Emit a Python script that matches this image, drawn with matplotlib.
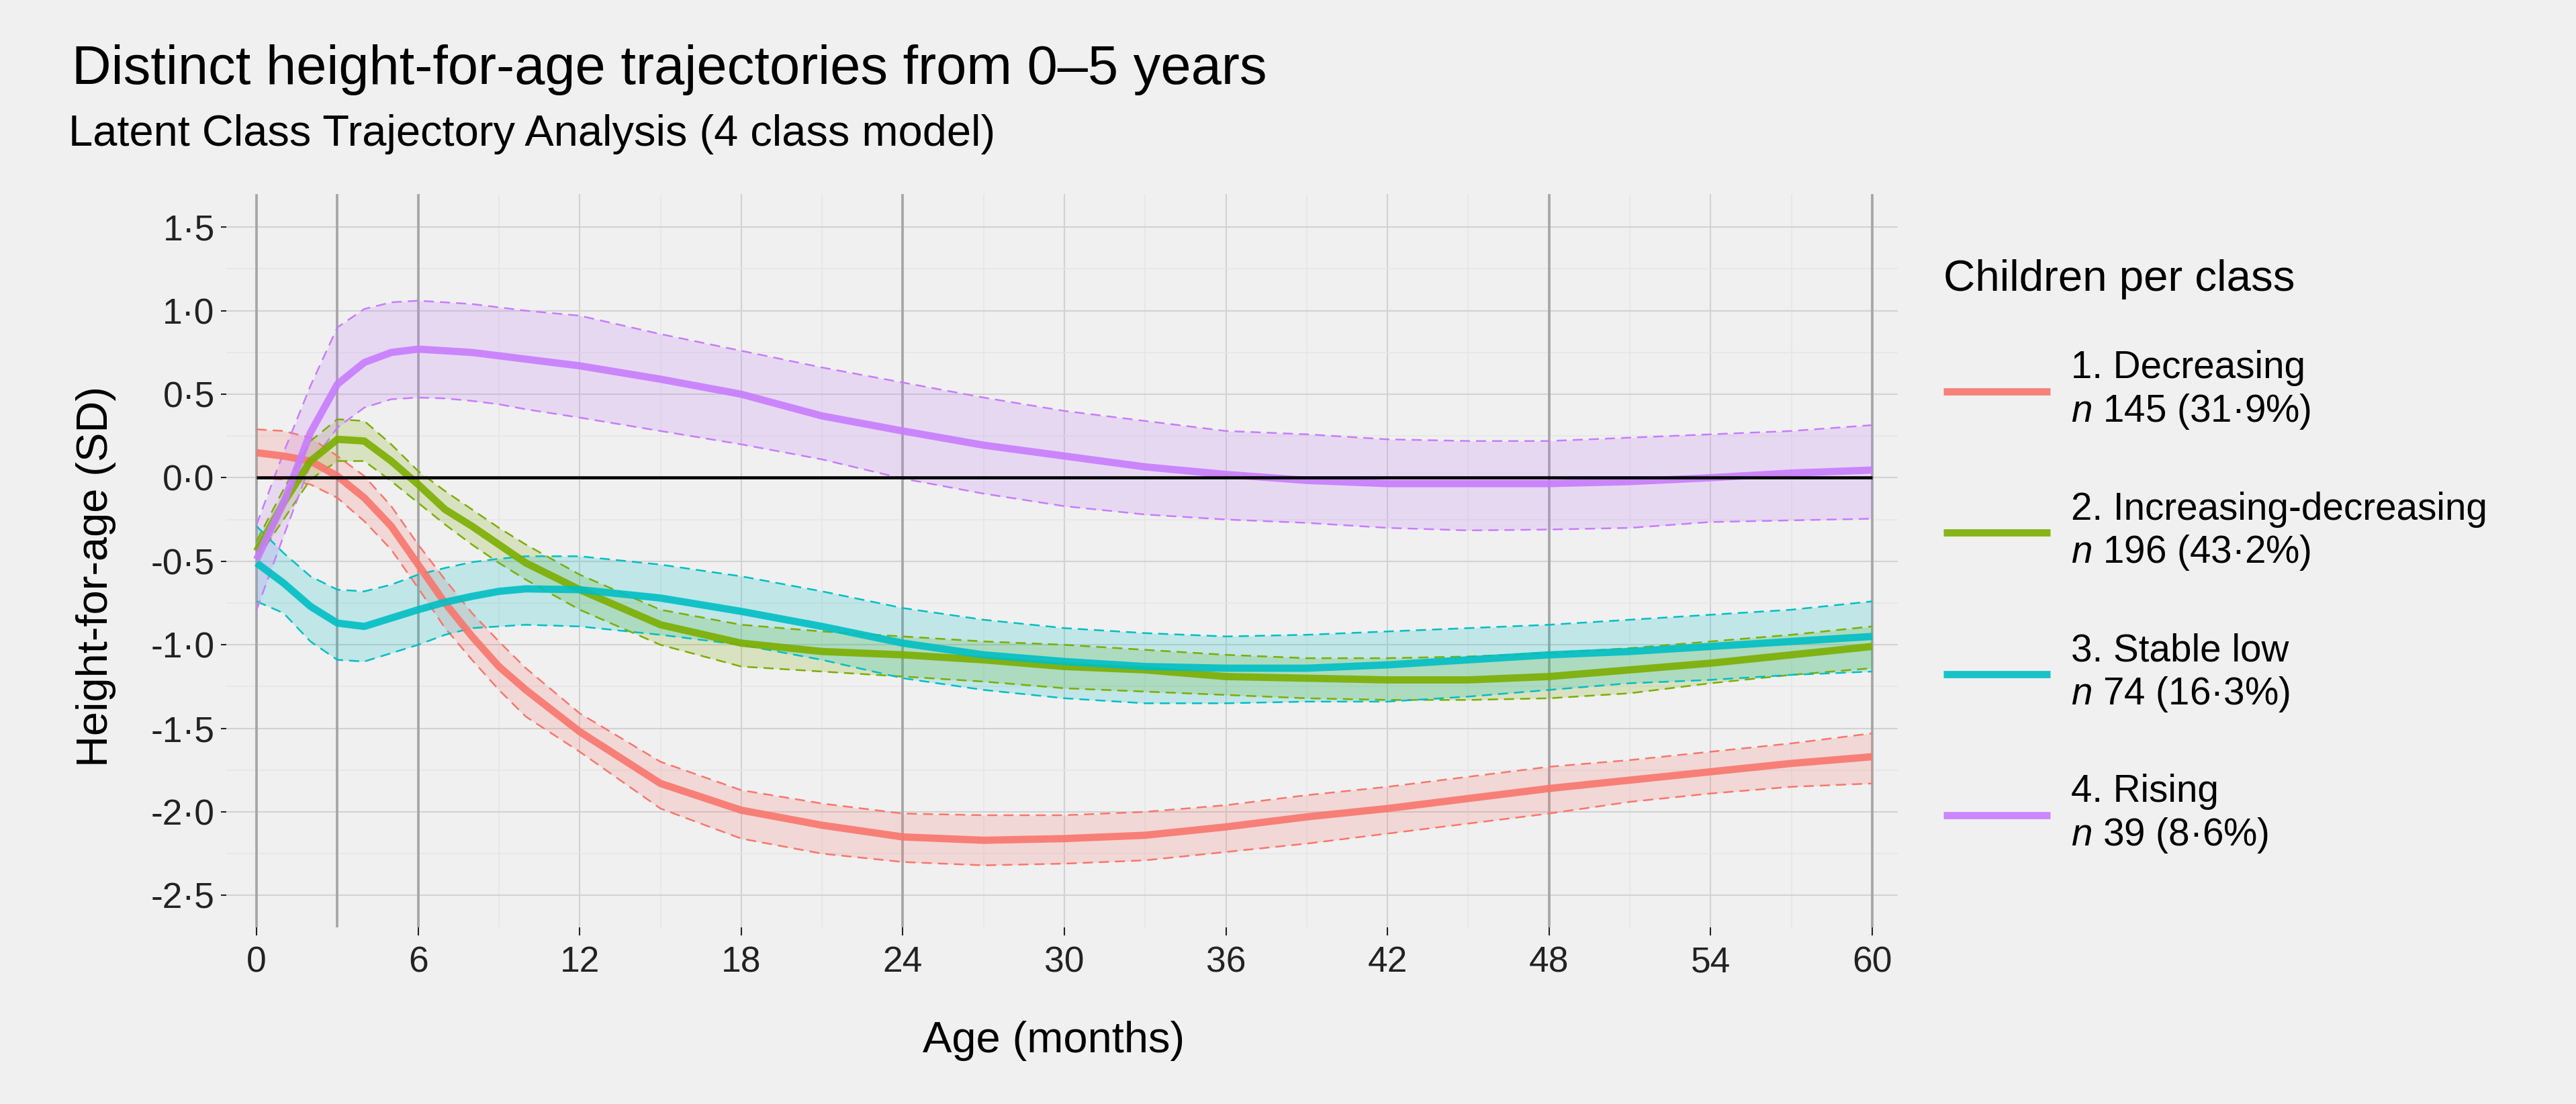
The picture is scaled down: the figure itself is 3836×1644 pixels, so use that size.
import matplotlib
matplotlib.use('Agg')
import matplotlib.pyplot as plt
from matplotlib.ticker import MultipleLocator, FuncFormatter

plt.rcParams['font.family'] = ['Liberation Sans', 'DejaVu Sans']
plt.rcParams['mathtext.fontset'] = 'custom'
plt.rcParams['mathtext.rm'] = 'Liberation Sans'
plt.rcParams['mathtext.it'] = 'Liberation Sans:italic'

# ---- data ----
months = [0, 1, 2, 3, 4, 5, 6, 7, 8, 9, 10, 12, 15, 18, 21, 24, 27, 30,
          33, 36, 39, 42, 45, 48, 51, 54, 57, 60]

decr_mean = [0.15, 0.13, 0.10, 0.01, -0.12, -0.29, -0.52, -0.75, -0.95, -1.13,
             -1.27, -1.52, -1.83, -1.99, -2.08, -2.15, -2.17, -2.16, -2.14,
             -2.09, -2.03, -1.98, -1.92, -1.86, -1.81, -1.76, -1.71, -1.67]
decr_hi = [0.29, 0.28, 0.24, 0.13, 0.01, -0.17, -0.40, -0.61, -0.81, -0.98,
           -1.14, -1.41, -1.70, -1.87, -1.95, -2.01, -2.02, -2.02, -2.00,
           -1.96, -1.90, -1.85, -1.79, -1.73, -1.69, -1.64, -1.59, -1.53]
decr_lo = [0.00, -0.01, -0.04, -0.12, -0.26, -0.43, -0.66, -0.90, -1.09, -1.27,
           -1.43, -1.64, -1.98, -2.16, -2.25, -2.30, -2.32, -2.31, -2.29,
           -2.24, -2.19, -2.13, -2.07, -2.01, -1.94, -1.89, -1.85, -1.83]

incdec_mean = [-0.44, -0.15, 0.10, 0.23, 0.22, 0.10, -0.04, -0.19, -0.29, -0.40,
               -0.51, -0.67, -0.88, -0.99, -1.04, -1.06, -1.09, -1.13, -1.15,
               -1.19, -1.20, -1.21, -1.21, -1.19, -1.15, -1.11, -1.06, -1.01]
incdec_hi = [-0.38, -0.07, 0.22, 0.35, 0.34, 0.20, 0.04, -0.08, -0.19, -0.30,
             -0.40, -0.58, -0.79, -0.88, -0.92, -0.95, -0.98, -1.00, -1.03,
             -1.06, -1.08, -1.08, -1.07, -1.05, -1.02, -0.98, -0.94, -0.89]
incdec_lo = [-0.49, -0.25, -0.01, 0.10, 0.10, -0.02, -0.15, -0.28, -0.40, -0.51,
             -0.61, -0.79, -1.00, -1.13, -1.16, -1.19, -1.22, -1.26, -1.28,
             -1.30, -1.32, -1.33, -1.33, -1.32, -1.29, -1.23, -1.18, -1.14]

stable_mean = [-0.51, -0.63, -0.77, -0.87, -0.89, -0.84, -0.79, -0.745, -0.71,
               -0.68, -0.665, -0.67, -0.72, -0.80, -0.89, -0.99, -1.06, -1.10,
               -1.13, -1.14, -1.14, -1.12, -1.09, -1.06, -1.04, -1.01, -0.98, -0.95]
stable_hi = [-0.29, -0.45, -0.59, -0.67, -0.68, -0.64, -0.58, -0.54, -0.505,
             -0.485, -0.47, -0.47, -0.52, -0.59, -0.68, -0.78, -0.85, -0.90,
             -0.93, -0.95, -0.94, -0.92, -0.90, -0.88, -0.85, -0.82, -0.79, -0.74]
stable_lo = [-0.74, -0.81, -0.98, -1.09, -1.10, -1.05, -1.00, -0.94, -0.90,
             -0.89, -0.88, -0.89, -0.94, -1.00, -1.09, -1.20, -1.27, -1.32,
             -1.35, -1.35, -1.34, -1.34, -1.31, -1.27, -1.23, -1.21, -1.18, -1.16]

rising_mean = [-0.49, -0.15, 0.27, 0.56, 0.69, 0.75, 0.77, 0.76, 0.75, 0.73,
               0.71, 0.67, 0.59, 0.50, 0.37, 0.28, 0.195, 0.13, 0.065, 0.02,
               -0.016, -0.035, -0.035, -0.035, -0.023, 0.0, 0.028, 0.046]
rising_hi = [-0.28, 0.15, 0.55, 0.90, 1.01, 1.05, 1.06, 1.05, 1.04, 1.02,
             1.00, 0.97, 0.86, 0.76, 0.66, 0.57, 0.48, 0.40, 0.34, 0.28,
             0.26, 0.23, 0.22, 0.22, 0.24, 0.26, 0.28, 0.315]
rising_lo = [-0.79, -0.35, 0.08, 0.30, 0.42, 0.47, 0.48, 0.475, 0.46, 0.44,
             0.41, 0.36, 0.28, 0.20, 0.11, -0.005, -0.095, -0.17, -0.22, -0.25,
             -0.27, -0.30, -0.315, -0.31, -0.30, -0.265, -0.255, -0.245]

class_labels = ['1. Decreasing\n$n$ 145 (31·9%)',
                '2. Increasing-decreasing\n$n$ 196 (43·2%)',
                '3. Stable low\n$n$ 74 (16·3%)',
                '4. Rising\n$n$ 39 (8·6%)']
class_colors = ['#F8766D', '#7CAE00', '#00BFC4', '#C77CFF']
vline_months = [0, 3, 6, 24, 48, 60]

series = [(decr_mean, decr_lo, decr_hi),
          (incdec_mean, incdec_lo, incdec_hi),
          (stable_mean, stable_lo, stable_hi),
          (rising_mean, rising_lo, rising_hi)]

BG = '#F0F0F0'
fig = plt.figure(figsize=(3836 / 300, 1644 / 300), dpi=300, facecolor=BG)
ax = fig.add_axes([0.0879, 0.1602, 0.6488, 0.6643], facecolor=BG)

# grid
ax.xaxis.set_major_locator(MultipleLocator(6))
ax.xaxis.set_minor_locator(MultipleLocator(3))
ax.yaxis.set_major_locator(MultipleLocator(0.5))
ax.yaxis.set_minor_locator(MultipleLocator(0.25))
ax.grid(which='major', color='#D2D2D2', linewidth=0.5, zorder=0)
ax.grid(which='minor', color='#E6E6E6', linewidth=0.4, zorder=0)
ax.set_axisbelow(True)

for m in vline_months:
    ax.axvline(m, color='#A6A6A6', linewidth=0.9, zorder=1)

# confidence ribbons with dashed borders
for (mean, lo, hi), col in zip(series, class_colors):
    ax.fill_between(months, lo, hi, color=col, alpha=0.2, linewidth=0, zorder=2)
    ax.plot(months, lo, color=col, linewidth=0.6, linestyle=(0, (6, 3.6)), zorder=3)
    ax.plot(months, hi, color=col, linewidth=0.6, linestyle=(0, (6, 3.6)), zorder=3)

lines = []
for (mean, lo, hi), col, lab in zip(series, class_colors, class_labels):
    ln, = ax.plot(months, mean, color=col, alpha=0.9, linewidth=2.6, label=lab,
                  solid_capstyle='butt', solid_joinstyle='round', zorder=4)
    lines.append(ln)

ax.hlines(0, months[0], months[-1], color='black', linewidth=1.1, zorder=5)

ax.set_xlim(-1.12, 60.95)
ax.set_ylim(-2.69, 1.70)
ax.yaxis.set_major_formatter(FuncFormatter(lambda v, p: f'{v:.1f}'.replace('.', '·')))
ax.tick_params(which='major', width=0.5, color='#222222',
               labelcolor='#222222', labelsize=12.8)
ax.tick_params(axis='x', which='major', length=2.8, pad=3.8)
ax.tick_params(axis='y', which='major', length=2.0, pad=2.2)
ax.tick_params(which='minor', length=0)
for s in ax.spines.values():
    s.set_visible(False)

ax.set_xlabel('Age (months)', fontsize=15.6, color='black')
ax.set_ylabel('Height-for-age (SD)', fontsize=15.6, color='black')
ax.xaxis.set_label_coords(0.495, -0.128)
ax.yaxis.set_label_coords(-0.066, 0.478)

fig.text(0.0280, 0.924, 'Distinct height-for-age trajectories from 0–5 years',
         fontsize=19.5, ha='left', va='baseline')
fig.text(0.0266, 0.868, 'Latent Class Trajectory Analysis (4 class model)',
         fontsize=15.6, ha='left', va='baseline')

leg = ax.legend(handles=lines, labels=class_labels, title='Children per class',
                loc='upper left', bbox_to_anchor=(0.7545, 0.765),
                bbox_transform=fig.transFigure, frameon=False, fontsize=13.6,
                title_fontsize=15.7, alignment='left', handlelength=2.8,
                handletextpad=0.55, labelspacing=1.58, borderpad=0,
                borderaxespad=0)
# gap between title and first entry is smaller than between entries
leg._legend_box.sep = 18.0
for h in leg.legend_handles:
    h.set_linewidth(2.6)
    h.set_alpha(0.9)

fig.savefig('out.png', dpi=300, facecolor=BG)
